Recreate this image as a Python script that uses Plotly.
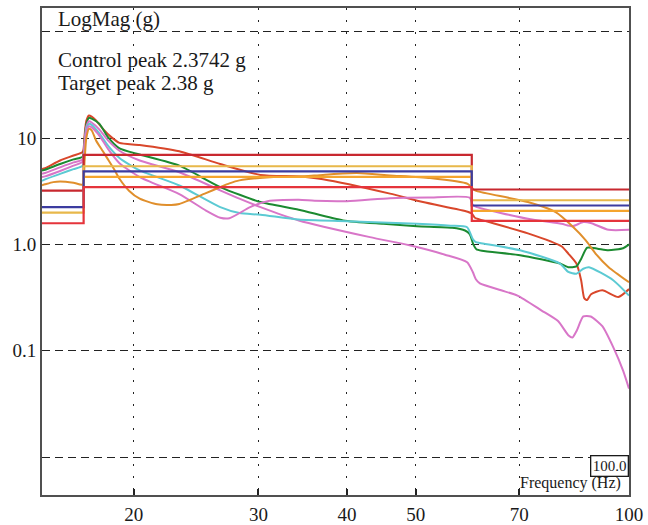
import plotly.graph_objects as go
import math

# ---------------- data ----------------
STEP_FREQ = [14.85, 17, 60, 100]
PROFILE   = [2.24, 4.85, 2.32, 2.32]
ABORT_HI  = [3.2, 6.95, 3.28, 3.28]
ABORT_LO  = [1.58, 3.45, 1.66, 1.66]
ALARM_HI  = [1.99, 5.43, 2.6, 2.6]
ALARM_LO_FREQ = [17, 60, 100]
ALARM_LO  = [4.32, 2.07, 2.07]

f_red = [14.85, 15.0, 15.75, 16.45, 16.95, 17.05, 17.15, 17.3, 17.45, 17.7, 18.1, 18.6, 19.1, 20.4,
         23.2, 26.5, 30.2, 34.2, 37.0, 46.0, 51.2, 59.2, 60.0, 60.6, 61.5, 72.0, 80.3, 82.1, 84.3,
         85.6, 86.5, 87.3, 88.4, 91.7, 96.6, 100]
v_red = [5.1, 5.2, 6.15, 6.85, 7.4, 10.5, 14.5, 16.3, 15.9, 14.6, 12.2, 10.2, 9.0, 8.6,
         7.5, 5.7, 4.5, 4.35, 4.1, 3.0, 2.5, 2.03, 1.95, 1.78, 1.72, 1.27, 0.96, 0.82, 0.66,
         0.46, 0.31, 0.30, 0.34, 0.37, 0.32, 0.38]

f_green = [14.85, 15.0, 15.75, 16.45, 16.95, 17.05, 17.15, 17.3, 17.45, 17.9, 18.4, 19.1, 20.4,
           23.2, 26.5, 30.2, 34.2, 39.5, 45, 50.2, 56.3, 58.7, 59.6, 60.3, 60.9, 62, 70.2, 79.9,
           82.1, 84.3, 85.6, 87.3, 90.3, 93.5, 98.1, 100]
v_green = [4.95, 5.04, 5.7, 6.3, 6.7, 9.5, 13.5, 15.5, 15.2, 13.6, 10.2, 8.0, 7.0,
           5.5, 3.46, 2.5, 2.12, 1.68, 1.56, 1.48, 1.43, 1.35, 1.25, 1.0, 0.9, 0.87, 0.79, 0.66,
           0.61, 0.62, 0.73, 0.93, 0.91, 0.88, 0.92, 1.0]

f_pinkA = [14.85, 15.0, 15.75, 16.45, 16.95, 17.05, 17.15, 17.3, 17.45, 17.9, 18.4, 19.1, 20.4,
           23.2, 26.5, 28.2, 30.2, 34.2, 43.1, 49.0, 55, 59.1, 60.2, 60.8, 61.6, 66, 69.6, 75.2,
           79.4, 82.1, 83.2, 84.4, 86.2, 88.3, 91.7, 95.0, 98.1, 100]
v_pinkA = [4.6, 4.69, 5.3, 5.9, 6.3, 9.0, 12.8, 14.4, 14.0, 12.0, 9.5, 7.6, 6.15,
           4.77, 3.22, 2.69, 2.24, 1.68, 1.17, 0.98, 0.8, 0.68, 0.55, 0.47, 0.43, 0.37, 0.33, 0.24,
           0.19, 0.14, 0.133, 0.155, 0.21, 0.21, 0.17, 0.108, 0.065, 0.044]

f_cyan = [14.85, 15.0, 15.75, 16.45, 16.95, 17.05, 17.15, 17.3, 17.45, 17.9, 18.4, 19.1, 20.4,
          23.2, 26.5, 28.2, 30.2, 34.2, 40, 50.2, 56, 59.1, 60.2, 60.8, 61.6, 70.2, 79.9, 82.1,
          84.3, 86.2, 87.8, 95.0, 100]
v_cyan = [3.95, 4.09, 4.6, 5.1, 5.5, 8.0, 12.0, 13.6, 13.3, 11.0, 8.5, 6.5, 4.96,
          3.58, 2.24, 1.97, 1.9, 1.71, 1.65, 1.56, 1.5, 1.45, 1.12, 1.05, 1.03, 0.88, 0.66, 0.55,
          0.53, 0.59, 0.61, 0.46, 0.33]

f_pinkB = [14.85, 15.0, 15.75, 16.45, 16.95, 17.05, 17.15, 17.3, 17.45, 17.9, 18.4, 19.1, 20.4,
           23.2, 25.3, 26.5, 27.3, 29.2, 30.9, 34.2, 36, 40, 46, 52, 59.6, 60.2, 61, 72.0, 80.3,
           83.2, 86.2, 88.3, 93.6, 100]
v_pinkB = [4.3, 4.36, 4.9, 5.5, 6.0, 8.5, 11.5, 12.9, 12.6, 10.5, 7.9, 5.8, 4.3,
           2.97, 2.08, 1.78, 1.76, 2.24, 2.55, 2.63, 2.57, 2.55, 2.72, 2.76, 2.75, 2.35, 2.24, 1.74,
           1.56, 1.48, 1.62, 1.59, 1.37, 1.37]

f_orange = [14.85, 15.0, 15.4, 15.75, 16.45, 16.95, 17.05, 17.15, 17.3, 17.45, 17.7, 18.1, 18.4,
            18.8, 19.1, 19.7, 20.4, 21.6, 22.6, 23.2, 25.2, 26.5, 27.3, 28.2, 31.5, 34.2, 37,
            41.3, 46, 52.4, 59.2, 60.3, 61.0, 72.0, 78.8, 83.2, 86.9, 89.7, 93.6, 100]
v_orange = [3.6, 3.67, 3.85, 3.91, 3.8, 3.65, 6.0, 10.0, 12.2, 11.8, 9.5, 7.5, 6.3,
            5.0, 4.14, 3.2, 2.69, 2.38, 2.35, 2.4, 3.0, 3.46, 3.75, 4.0, 4.3, 4.35, 4.5,
            4.68, 4.45, 4.2, 3.7, 3.3, 3.17, 2.5, 2.01, 1.48, 1.09, 0.82, 0.61, 0.44]

X_TICKS = [20, 30, 40, 50, 70, 100]
Y_TICKS = [0.01, 0.1, 1, 10, 100]
Y_TICKTEXT = ["", "0.1", "1.0", "10", ""]

FONT = "Liberation Serif"

fig = go.Figure()

curves = [
    (f_red, v_red, "#d9472b"),
    (f_green, v_green, "#1b8a30"),
    (f_pinkA, v_pinkA, "#d876c8"),
    (f_cyan, v_cyan, "#5ccad3"),
    (f_pinkB, v_pinkB, "#d876c8"),
    (f_orange, v_orange, "#e08f2c"),
]
for fx, vy, col in curves:
    fig.add_trace(go.Scatter(x=fx, y=vy, mode="lines",
                             line=dict(color=col, width=2, shape="spline", smoothing=0.6)))

steps = [
    (STEP_FREQ, ABORT_HI, "#c8282f"),
    (STEP_FREQ, ALARM_HI, "#e8b84a"),
    (ALARM_LO_FREQ, ALARM_LO, "#f5a52e"),
    (STEP_FREQ, PROFILE, "#3c3ca0"),
    (STEP_FREQ, ABORT_LO, "#e5343b"),
]
for fx, vy, col in steps:
    fig.add_trace(go.Scatter(x=fx, y=vy, mode="lines",
                             line=dict(color=col, width=2.2, shape="hv")))

# plot area in pixels: x 42..629, y 8..495
L, R, T, B = 42, 629, 8, 495
W, H = R - L, B - T
def px(x):
    return (x - L) / W
def py(y):
    return (B - y) / H

fig.update_layout(
    width=648, height=525,
    margin=dict(l=L, r=648 - R, t=T, b=525 - B, autoexpand=False),
    paper_bgcolor="white", plot_bgcolor="white",
    showlegend=False,
    font=dict(family=FONT, color="#1a1a1a"),
    xaxis=dict(type="log", range=[math.log10(14.85), 2], automargin=False,
               tickvals=X_TICKS, ticktext=[str(v) for v in X_TICKS],
               ticks="inside", ticklen=6, tickwidth=1.5, tickcolor="#222",
               ticklabelstandoff=1,
               tickfont=dict(size=19, family=FONT, color="#1a1a1a"),
               showline=True, mirror=True, linecolor="#505050", linewidth=2,
               showgrid=True, gridcolor="#222", gridwidth=1.4, griddash="2px,10px",
               zeroline=False),
    yaxis=dict(type="log", range=[-2.357, 2.223], automargin=False,
               tickvals=Y_TICKS, ticktext=Y_TICKTEXT,
               ticks="", tickfont=dict(size=19, family=FONT, color="#1a1a1a"),
               showline=True, mirror=True, linecolor="#505050", linewidth=2,
               showgrid=True, gridcolor="#222", gridwidth=1.4, griddash="8px,5px",
               zeroline=False),
)

ann = dict(xref="paper", yref="paper", showarrow=False, xanchor="left", yanchor="middle",
           font=dict(family=FONT, size=21, color="#1a1a1a"))
fig.add_annotation(text="LogMag (g)", x=px(56), y=py(19), **ann)
fig.add_annotation(text="Control peak 2.3742 g", x=px(56), y=py(60), **ann)
fig.add_annotation(text="Target peak 2.38 g", x=px(56), y=py(83), **ann)
fig.add_annotation(text="Frequency (Hz)", x=px(623), y=py(483), xref="paper", yref="paper",
                   showarrow=False, xanchor="right", yanchor="middle",
                   font=dict(family=FONT, size=16, color="#1a1a1a"))
fig.add_annotation(text="100.0", x=1.0, y=py(465.5), xref="paper", yref="paper",
                   showarrow=False, xanchor="right", yanchor="middle",
                   bordercolor="#1a1a1a", borderwidth=1.3, borderpad=1.5, bgcolor="white",
                   font=dict(family=FONT, size=15, color="#1a1a1a"))

fig.write_html("out.html", config={"displayModeBar": False},
               post_script="document.body.style.margin='0';document.body.style.overflow='hidden';")
